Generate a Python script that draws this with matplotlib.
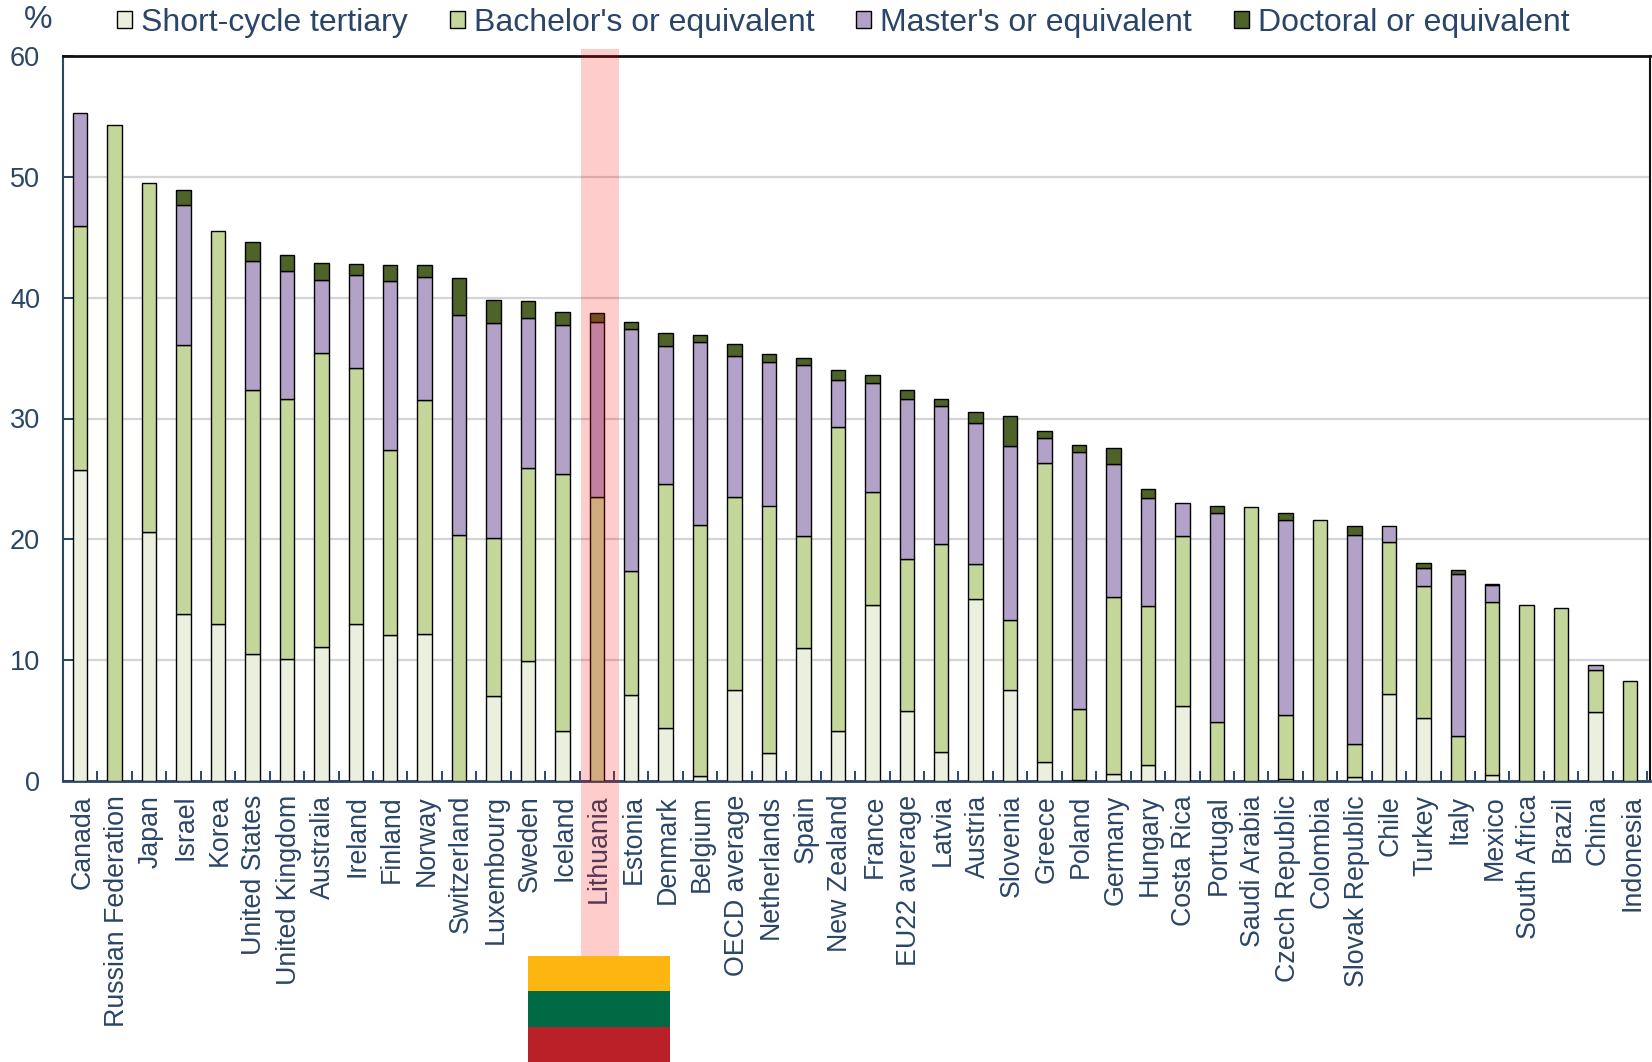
import matplotlib
matplotlib.use("Agg")
import matplotlib.pyplot as plt
from matplotlib.patches import Rectangle, Patch
from matplotlib.transforms import ScaledTranslation
import numpy as np

plt.rcParams['font.family'] = ['Liberation Sans', 'DejaVu Sans']

countries = ["Canada","Russian Federation","Japan","Israel","Korea","United States","United Kingdom","Australia","Ireland","Finland","Norway","Switzerland","Luxembourg","Sweden","Iceland","Lithuania","Estonia","Denmark","Belgium","OECD average","Netherlands","Spain","New Zealand","France","EU22 average","Latvia","Austria","Slovenia","Greece","Poland","Germany","Hungary","Costa Rica","Portugal","Saudi Arabia","Czech Republic","Colombia","Slovak Republic","Chile","Turkey","Italy","Mexico","South Africa","Brazil","China","Indonesia"]
short_cycle = [25.7,0,20.6,13.8,13.0,10.5,10.1,11.1,13.0,12.1,12.2,0,7.0,9.9,4.1,0,7.1,4.4,0.4,7.5,2.3,11.0,4.1,14.6,5.8,2.4,15.1,7.5,1.6,0.1,0.6,1.3,6.2,0,0,0.2,0,0.3,7.2,5.2,0,0.5,0,0,5.7,0]
bachelor = [20.2,54.3,28.9,22.3,32.5,21.9,21.5,24.3,21.2,15.3,19.3,20.4,13.1,16.0,21.3,23.5,10.3,20.2,20.8,16.0,20.5,9.3,25.2,9.3,12.6,17.2,2.9,5.8,24.7,5.9,14.6,13.2,14.1,4.9,22.7,5.3,21.6,2.8,12.6,10.9,3.7,14.3,14.6,14.3,3.5,8.3]
master = [9.4,0,0,11.6,0,10.6,10.6,6.1,7.7,14.0,10.2,18.2,17.8,12.4,12.3,14.5,20.0,11.4,15.1,11.7,11.9,14.1,3.9,9.0,13.2,11.4,11.6,14.4,2.1,21.2,11.0,8.9,2.7,17.3,0,16.1,0,17.3,1.3,1.5,13.4,1.4,0,0,0.4,0]
doctoral = [0,0,0,1.2,0,1.6,1.3,1.4,0.9,1.3,1.0,3.0,1.9,1.4,1.1,0.7,0.6,1.1,0.6,1.0,0.6,0.6,0.8,0.7,0.8,0.6,0.9,2.5,0.6,0.6,1.4,0.8,0,0.6,0,0.6,0,0.7,0,0.4,0.4,0.1,0,0,0,0]
series_names = ["Short-cycle tertiary","Bachelor's or equivalent","Master's or equivalent","Doctoral or equivalent"]
series_colors = ["#EBEFDE","#C5D69B","#B2A2C7","#4F6228"]
y_ticks = [0,10,20,30,40,50,60]
highlight = "Lithuania"
flag_colors = ["#FDB50F","#006A44","#BA2027"]

W, H = 1652, 1062
NAVY = "#2A4567"
fig = plt.figure(figsize=(W/100, H/100), dpi=100, facecolor="white")
ax = fig.add_axes([63/W, 1-781/H, (1650-63)/W, (781-56)/H])

x = np.arange(len(countries))
bottom = np.zeros(len(countries))
for vals, col, name in zip([short_cycle, bachelor, master, doctoral], series_colors, series_names):
    v = np.array(vals, float)
    mask = v > 0
    ax.bar(x[mask], v[mask], bottom=bottom[mask], width=0.42, color=col, edgecolor="black",
           linewidth=1.0, zorder=3)
    bottom += v

ax.set_xlim(-0.5, len(countries)-0.42)
ax.set_ylim(0, 60)
ax.set_yticks(y_ticks)
ax.set_xticks(x)
ax.set_xticklabels(countries, rotation=90, fontsize=19.3, color=NAVY)
ax.tick_params(axis="x", which="major", length=0, pad=10)
shift = ScaledTranslation(2/100, 0, fig.dpi_scale_trans)
for lab in ax.get_xticklabels():
    lab.set_transform(lab.get_transform() + shift)
ax.set_xticks(np.arange(-0.5, len(countries)), minor=True)
ax.tick_params(axis="x", which="minor", direction="in", length=7, width=1.4, color=NAVY)
ax.tick_params(axis="y", direction="in", length=7, width=1.4, color=NAVY, labelsize=19.5, labelcolor=NAVY, pad=16.5)
ax.grid(axis="y", color="#D4D4D4", linewidth=1.6, zorder=1)
ax.set_axisbelow(True)
for s, c, lw in [("left",NAVY,1.5),("bottom",NAVY,2.0),("top","#111111",2.0),("right","#111111",1.5)]:
    ax.spines[s].set_color(c); ax.spines[s].set_linewidth(lw)

# highlight band and flag
hi = countries.index(highlight)
px = ax.transData.transform((hi, 0))[0]
cx = px + 3.5
fig.add_artist(Rectangle(((cx-19)/W, 1-956/H), 38/W, (956-49)/H, transform=fig.transFigure,
                 facecolor="#FF0000", alpha=0.2, edgecolor="none", zorder=10))
stripe_edges = [956, 991, 1027, 1062]
for i, col in enumerate(flag_colors):
    fig.add_artist(Rectangle((528/W, 1-stripe_edges[i+1]/H), 142/W, (stripe_edges[i+1]-stripe_edges[i])/H,
                             transform=fig.transFigure, facecolor=col, edgecolor="none", zorder=11))

fs = 23.0; fpx = fs*100/72
fig.text(38/W, 1-20/H, "%", fontsize=fs, color=NAVY, ha="center", va="center")

handles = [Patch(facecolor=c, edgecolor="black", linewidth=1.0) for c in series_colors]
leg = fig.legend(handles, series_names, ncol=4, loc="center left", bbox_to_anchor=(117/W, 1-23/H),
                 frameon=False, fontsize=fs, labelcolor=NAVY, handlelength=15/fpx, handleheight=15/fpx,
                 handletextpad=9/fpx, columnspacing=42/fpx, borderpad=0, borderaxespad=0)

fig.savefig("out.png", dpi=100)
